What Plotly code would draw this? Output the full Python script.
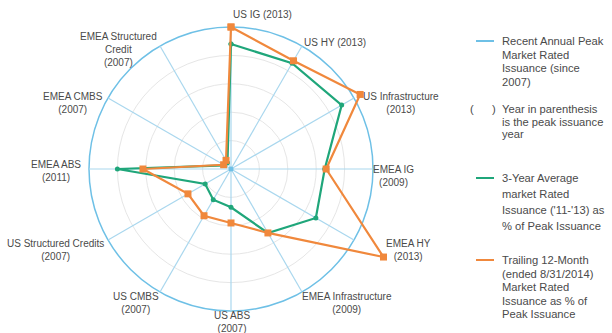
import numpy as np
import plotly.graph_objects as go

W, H = 612, 333

categories = [
    "US IG", "US HY", "US Infrastructure", "EMEA IG", "EMEA HY",
    "EMEA Infrastructure", "US ABS", "US CMBS", "US Structured Credits",
    "EMEA ABS", "EMEA CMBS", "EMEA Structured Credit",
]
peak_years = ["2013", "2013", "2013", "2009", "2013", "2009",
              "2007", "2007", "2007", "2011", "2007", "2007"]

# shares of peak issuance (1.0 = peak year)
peak_level = 1.0
three_year_avg = [0.88, 0.86, 0.90, 0.66, 0.69, 0.52,
                  0.27, 0.25, 0.21, 0.80, 0.05, 0.05]
trailing_12m = [1.00, 0.88, 1.05, 0.67, 1.24, 0.52,
                0.38, 0.38, 0.35, 0.62, 0.06, 0.07]
grid_levels = [0.2, 0.4, 0.6, 0.8]

BLUE = "#6EC0E6"
SPOKE = "#A9D7EE"
GRID = "#E6E6E6"
GREEN = "#1FA67A"
ORANGE = "#F0883C"
TXT = "#4A4A4A"
FONT = "Liberation Sans, Arial, sans-serif"

# radar geometry: categories go clockwise from 12 o'clock
n = len(categories)
angles = np.pi / 2 - 2 * np.pi * np.arange(n) / n


def to_xy(values):
    r = np.asarray(values, dtype=float)
    x = r * np.cos(angles)
    y = r * np.sin(angles)
    return np.append(x, x[0]), np.append(y, y[0])


fig = go.Figure()

# concentric gridlines and the peak (100%) ring
for lvl in grid_levels + [peak_level]:
    fig.add_shape(type="circle", xref="x", yref="y", layer="below",
                  x0=-lvl, x1=lvl, y0=-lvl, y1=lvl,
                  line=dict(color=BLUE if lvl == peak_level else GRID,
                            width=1.5 if lvl == peak_level else 1))

# spokes, one per category, out to the peak ring
for a in angles:
    fig.add_trace(go.Scatter(
        x=[0, peak_level * np.cos(a)], y=[0, peak_level * np.sin(a)],
        mode="lines", line=dict(color=SPOKE, width=1.2),
        showlegend=False, hoverinfo="skip",
    ))

gx, gy = to_xy(three_year_avg)
fig.add_trace(go.Scatter(
    x=gx, y=gy, mode="lines+markers",
    line=dict(color=GREEN, width=2.2), marker=dict(size=5, color=GREEN),
    showlegend=False, hoverinfo="skip",
))
ox, oy = to_xy(trailing_12m)
fig.add_trace(go.Scatter(
    x=ox, y=oy, mode="lines+markers",
    line=dict(color=ORANGE, width=2.2),
    marker=dict(size=7, color=ORANGE, symbol="square"),
    showlegend=False, hoverinfo="skip",
))
fig.add_trace(go.Scatter(
    x=[0], y=[0], mode="markers", marker=dict(size=5, color=BLUE),
    showlegend=False, hoverinfo="skip",
))

# one data unit = 142 px in both directions, centre at (231, 169) px
cx, cy, R = 231, 169, 142
fig.update_layout(
    width=W, height=H, margin=dict(l=0, r=0, t=0, b=0),
    paper_bgcolor="white", plot_bgcolor="white",
    font=dict(family=FONT, color=TXT, size=10),
    xaxis=dict(range=[-cx / R, (W - cx) / R], visible=False, fixedrange=True),
    yaxis=dict(range=[-(H - cy) / R, cy / R], visible=False, fixedrange=True),
)

# category labels: centre of each label block in pixels
label_pos = {
    "US IG": (262, 15, "one"),
    "US HY": (335, 42, "one"),
    "US Infrastructure": (401, 103, "two"),
    "EMEA IG": (393, 176, "two"),
    "EMEA HY": (408, 250, "two"),
    "EMEA Infrastructure": (347, 303, "two"),
    "US ABS": (232, 322, "two"),
    "US CMBS": (136, 303, "two"),
    "US Structured Credits": (56, 250, "two"),
    "EMEA ABS": (56, 171, "two"),
    "EMEA CMBS": (73, 103, "two"),
    "EMEA Structured Credit": (118, 49, "three"),
}
for name, year in zip(categories, peak_years):
    x, y, style = label_pos[name]
    if style == "one":
        text = f"{name} ({year})"
    elif style == "three":
        text = "EMEA Structured<br>Credit<br>(" + year + ")"
    else:
        text = f"{name}<br>({year})"
    fig.add_annotation(
        x=x / W, y=1 - y / H, xref="paper", yref="paper", text=text,
        showarrow=False, xanchor="center", yanchor="middle",
        font=dict(size=10, color=TXT, family=FONT), align="center",
    )

# legend block
legend_items = [
    (BLUE, 41, ["Recent Annual Peak", "Market Rated", "Issuance (since", "2007)"], 13.5),
    (None, 109, ["Year in parenthesis", "is the peak issuance", "year"], 12.5),
    (GREEN, 178, ["3-Year Average", "market Rated", "Issuance ('11-'13) as", "% of Peak Issuance"], 16),
    (ORANGE, 260, ["Trailing 12-Month", "(ended 8/31/2014)", "Market Rated", "Issuance as % of", "Peak Issuance"], 13.5),
]
LEG = 11.2
for color, y0, lines, step in legend_items:
    if color is not None:
        fig.add_shape(type="line", xref="paper", yref="paper",
                      x0=476 / W, x1=494 / W, y0=1 - y0 / H, y1=1 - y0 / H,
                      line=dict(color=color, width=2))
    else:
        for ch, px in (("(", 472), (")", 494)):
            fig.add_annotation(x=px / W, y=1 - y0 / H, xref="paper", yref="paper",
                               text=ch, showarrow=False, xanchor="center",
                               yanchor="middle",
                               font=dict(size=LEG, color=TXT, family=FONT))
    for i, line in enumerate(lines):
        fig.add_annotation(
            x=500 / W, y=1 - (y0 + i * step) / H, xref="paper", yref="paper",
            text=line, showarrow=False, xanchor="left", yanchor="middle",
            font=dict(size=LEG, color=TXT, family=FONT),
        )

fig.write_html("out.html")
